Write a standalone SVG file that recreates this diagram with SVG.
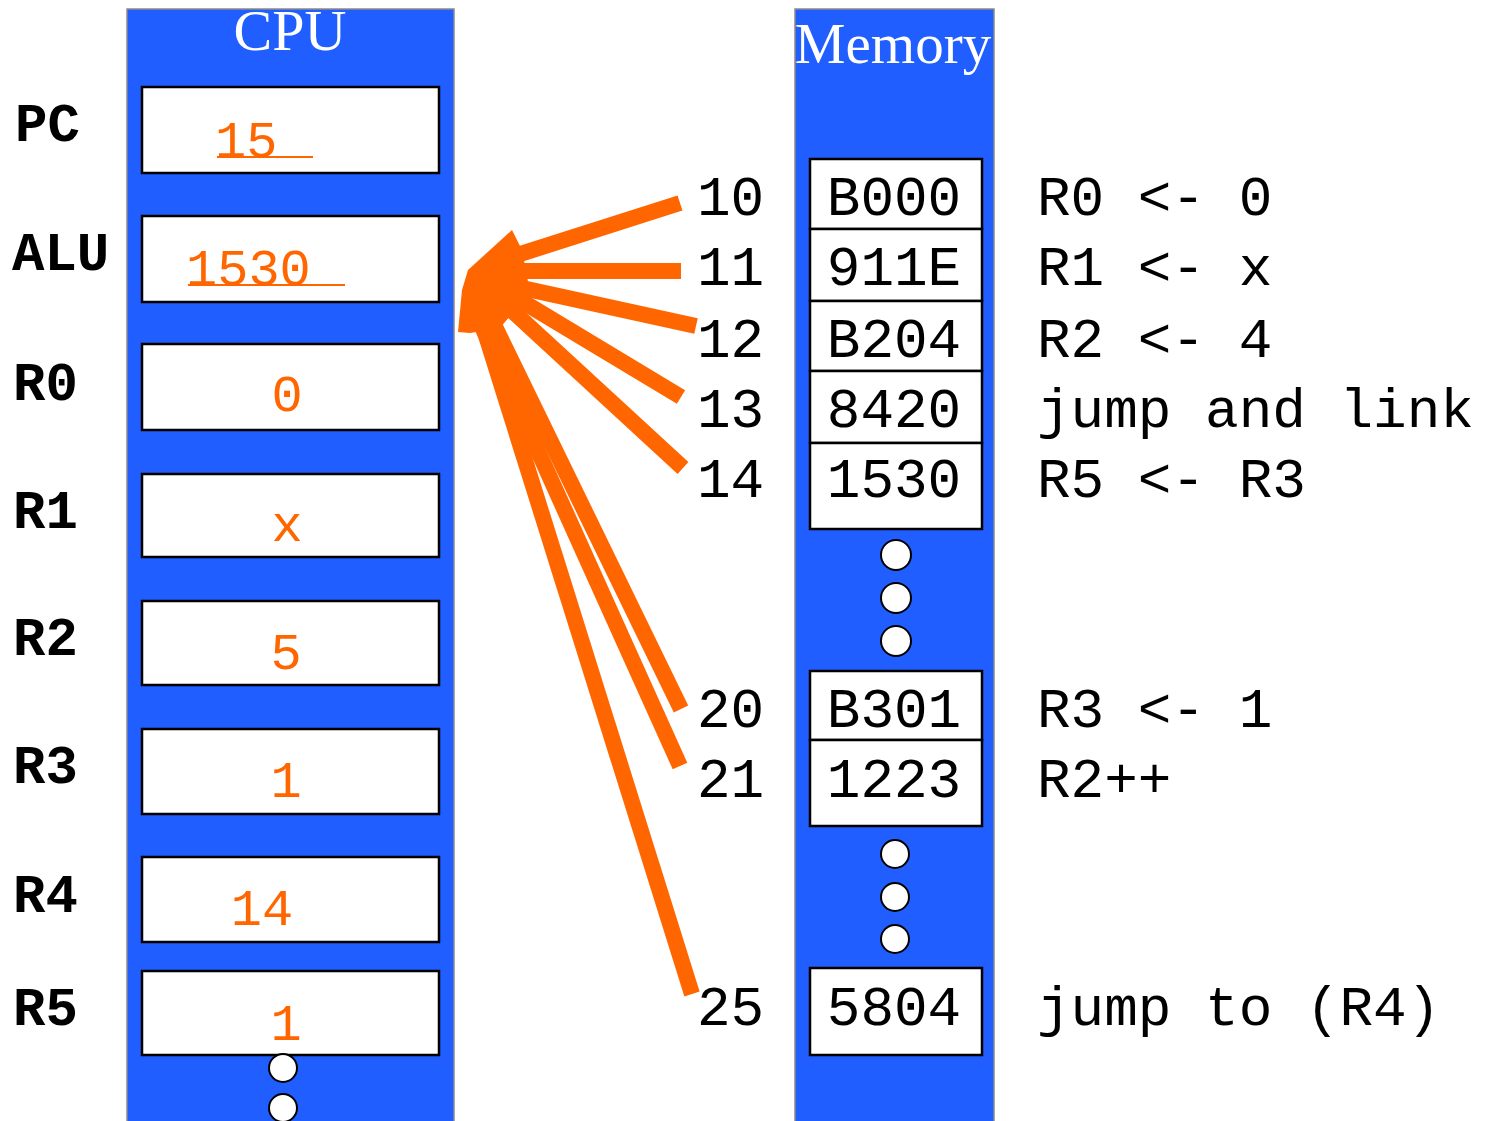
<svg xmlns="http://www.w3.org/2000/svg" width="1487" height="1121" viewBox="0 0 1487 1121">
<defs>
<style>
.col{fill:#215EFF;stroke:#8a8a8a;stroke-width:1.5}
.box{fill:#fff;stroke:#000;stroke-width:2.5}
.title{font-family:"Liberation Serif",serif;fill:#fff;text-anchor:middle}
.lbl{font-family:"Liberation Mono",monospace;font-size:54px;font-weight:bold;fill:#000}
.val{font-family:"Liberation Mono",monospace;font-size:52px;fill:#FF6600}
.mem{font-family:"Liberation Mono",monospace;font-size:56px;fill:#000}
.dot{fill:#fff;stroke:#000;stroke-width:2}
.arr{stroke:#FF6600;stroke-width:16;fill:none}
</style>
</defs>
<rect width="1487" height="1121" fill="#fff"/>

<g id="cpu">
<rect class="col" x="127" y="9" width="327" height="1120"/>
<text class="title" x="290" y="50" font-size="58">CPU</text>
</g>

<g id="pc">
<text class="lbl" x="15" y="141">PC</text>
<rect class="box" x="142" y="87" width="297" height="86"/>
<text class="val" x="215" y="157">15</text>
<line x1="217" y1="157" x2="313" y2="157" stroke="#FF6600" stroke-width="2"/>
</g>
<g id="alu">
<text class="lbl" x="12" y="270">ALU</text>
<rect class="box" x="142" y="216" width="297" height="86"/>
<text class="val" x="186" y="285">1530</text>
<line x1="188" y1="285" x2="345" y2="285" stroke="#FF6600" stroke-width="2"/>
</g>
<g id="r0">
<text class="lbl" x="13" y="400">R0</text>
<rect class="box" x="142" y="344" width="297" height="86"/>
<text class="val" x="287" y="411" text-anchor="middle">0</text>
</g>
<g id="r1">
<text class="lbl" x="13" y="528">R1</text>
<rect class="box" x="142" y="474" width="297" height="83"/>
<text class="val" x="287" y="541" text-anchor="middle">x</text>
</g>
<g id="r2">
<text class="lbl" x="13" y="655">R2</text>
<rect class="box" x="142" y="601" width="297" height="84"/>
<text class="val" x="286" y="669" text-anchor="middle">5</text>
</g>
<g id="r3">
<text class="lbl" x="13" y="783">R3</text>
<rect class="box" x="142" y="729" width="297" height="85"/>
<text class="val" x="286" y="797" text-anchor="middle">1</text>
</g>
<g id="r4">
<text class="lbl" x="13" y="912">R4</text>
<rect class="box" x="142" y="857" width="297" height="85"/>
<text class="val" x="262" y="925" text-anchor="middle">14</text>
</g>
<g id="r5">
<text class="lbl" x="13" y="1025">R5</text>
<rect class="box" x="142" y="971" width="297" height="84"/>
<text class="val" x="286" y="1040" text-anchor="middle">1</text>
</g>
<g id="cpu-dots">
<circle class="dot" cx="283" cy="1068" r="14"/>
<circle class="dot" cx="283" cy="1108" r="14"/>
</g>

<g id="memory">
<rect class="col" x="795" y="9" width="199" height="1120"/>
<text class="title" x="893" y="63" font-size="57">Memory</text>
</g>

<g id="m10">
<text class="mem" x="697" y="215">10</text>
<rect class="box" x="810" y="159" width="172" height="70"/>
<text class="mem" x="894" y="215" text-anchor="middle">B000</text>
<text class="mem" x="1037" y="215">R0 &lt;- 0</text>
</g>
<g id="m11">
<text class="mem" x="697" y="285">11</text>
<rect class="box" x="810" y="229" width="172" height="72"/>
<text class="mem" x="894" y="285" text-anchor="middle">911E</text>
<text class="mem" x="1037" y="285">R1 &lt;- x</text>
</g>
<g id="m12">
<text class="mem" x="697" y="357">12</text>
<rect class="box" x="810" y="301" width="172" height="70"/>
<text class="mem" x="894" y="357" text-anchor="middle">B204</text>
<text class="mem" x="1037" y="357">R2 &lt;- 4</text>
</g>
<g id="m13">
<text class="mem" x="697" y="427">13</text>
<rect class="box" x="810" y="371" width="172" height="72"/>
<text class="mem" x="894" y="427" text-anchor="middle">8420</text>
<text class="mem" x="1037" y="427">jump and link</text>
</g>
<g id="m14">
<text class="mem" x="697" y="497">14</text>
<rect class="box" x="810" y="443" width="172" height="86"/>
<text class="mem" x="894" y="497" text-anchor="middle">1530</text>
<text class="mem" x="1037" y="497">R5 &lt;- R3</text>
</g>
<g id="mem-dots1">
<circle class="dot" cx="896" cy="555" r="15"/>
<circle class="dot" cx="896" cy="598" r="15"/>
<circle class="dot" cx="896" cy="641" r="15"/>
</g>
<g id="m20">
<text class="mem" x="697" y="727">20</text>
<rect class="box" x="810" y="671" width="172" height="69"/>
<text class="mem" x="894" y="727" text-anchor="middle">B301</text>
<text class="mem" x="1037" y="727">R3 &lt;- 1</text>
</g>
<g id="m21">
<text class="mem" x="697" y="797">21</text>
<rect class="box" x="810" y="740" width="172" height="86"/>
<text class="mem" x="894" y="797" text-anchor="middle">1223</text>
<text class="mem" x="1037" y="797">R2++</text>
</g>
<g id="mem-dots2">
<circle class="dot" cx="895" cy="854" r="14"/>
<circle class="dot" cx="895" cy="897" r="14"/>
<circle class="dot" cx="895" cy="939" r="14"/>
</g>
<g id="m25">
<text class="mem" x="697" y="1025">25</text>
<rect class="box" x="810" y="968" width="172" height="87"/>
<text class="mem" x="894" y="1025" text-anchor="middle">5804</text>
<text class="mem" x="1037" y="1025">jump to (R4)</text>
</g>

<g id="connectors">
<line class="arr" x1="680" y1="203" x2="495" y2="262"/>
<line class="arr" x1="681" y1="271" x2="495" y2="271"/>
<line class="arr" x1="696" y1="326" x2="495" y2="282"/>
<line class="arr" x1="681" y1="397" x2="495" y2="285"/>
<line class="arr" x1="683" y1="468" x2="495" y2="295"/>
<line class="arr" x1="681" y1="709" x2="482" y2="300"/>
<line class="arr" x1="680" y1="766" x2="470" y2="300"/>
<line class="arr" x1="692" y1="994" x2="478" y2="310"/>
<polygon fill="#FF6600" points="512,230 522,250 530,292 500,328 470,333 458,332 462,290 468,270"/>
</g>
</svg>
